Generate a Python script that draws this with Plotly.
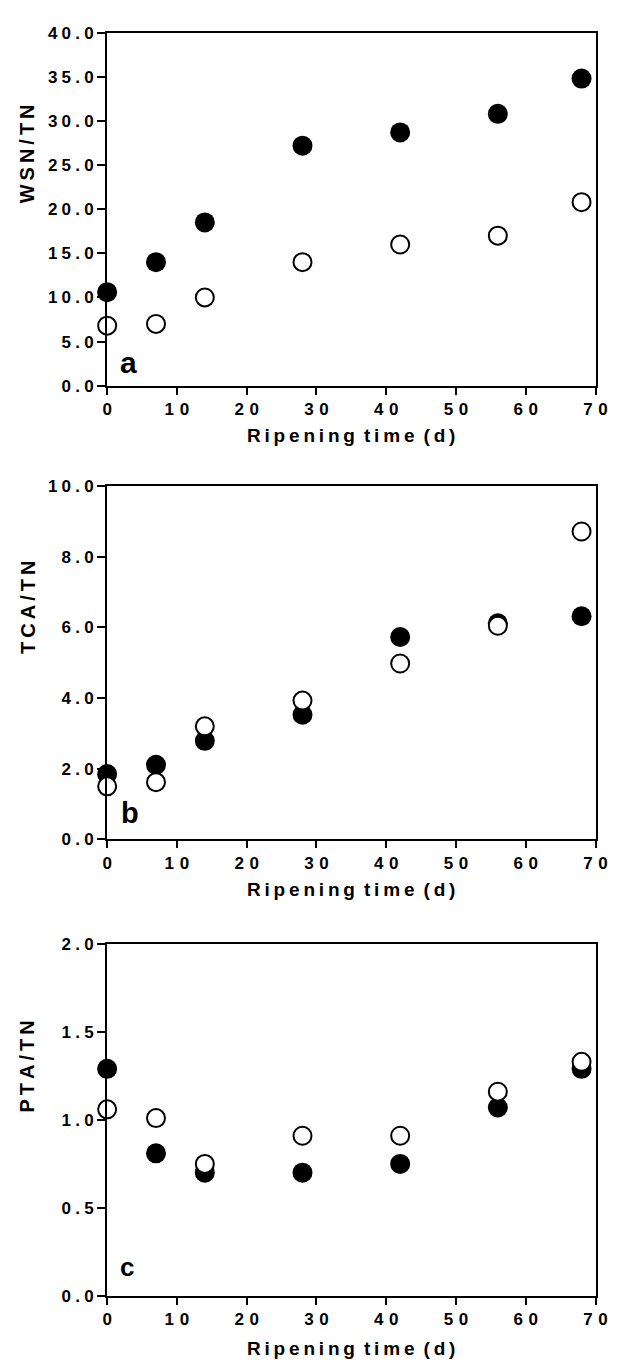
import plotly.graph_objects as go

# ---- data ----
days = [0, 7, 14, 28, 42, 56, 68]
wsn_filled = [10.6, 14.0, 18.5, 27.2, 28.7, 30.8, 34.8]
wsn_open = [6.8, 7.0, 10.0, 14.0, 16.0, 17.0, 20.8]
tca_filled = [1.85, 2.11, 2.79, 3.53, 5.73, 6.12, 6.32]
tca_open = [1.50, 1.62, 3.20, 3.93, 4.98, 6.05, 8.72]
pta_filled = [1.29, 0.81, 0.70, 0.70, 0.75, 1.07, 1.29]
pta_open = [1.06, 1.01, 0.75, 0.91, 0.91, 1.16, 1.33]

x_ticks = [0, 10, 20, 30, 40, 50, 60, 70]
wsn_ticks = [0, 5, 10, 15, 20, 25, 30, 35, 40]
tca_ticks = [0, 2, 4, 6, 8, 10]
pta_ticks = [0, 0.5, 1.0, 1.5, 2.0]

y_titles = ["WSN/TN", "TCA/TN", "PTA/TN"]
panel_letters = ["a", "b", "c"]
x_title = "Ripening time (d)"

# ---- layout helpers ----
W, H = 626, 1370
FONT = "Liberation Sans, Arial, Helvetica, sans-serif"
SP3 = "\u2004"  # three-per-em space
SP4 = "\u2005"  # four-per-em space
TH = "\u2009"   # thin space


def spaced(s, sep):
    return sep.join(list(s))


def px_x(x):
    return x / W


def px_y(y):
    return 1 - y / H


x_left, x_right = 105, 607
panels_px = [(24, 382), (484, 842), (948, 1305)]
ytitle_pos = [(23, 147), (23, 607), (23, 1072)]
xtitle_y = [433, 893, 1358]
letter_pos = [(127, 358), (129, 815), (125, 1276)]
letter_size = [30, 29, 26]

series = [
    (wsn_filled, wsn_open, wsn_ticks, "{:.1f}"),
    (tca_filled, tca_open, tca_ticks, "{:.1f}"),
    (pta_filled, pta_open, pta_ticks, "{:.1f}"),
]

fig = go.Figure()
annotations = []

for i, (filled, opn, yt, fmt) in enumerate(series):
    n = "" if i == 0 else str(i + 1)
    xa, ya = "x" + n, "y" + n
    fig.add_trace(go.Scatter(
        x=days, y=filled, mode="markers", xaxis=xa, yaxis=ya,
        marker=dict(symbol="circle", size=20, color="black",
                    line=dict(width=0)),
        cliponaxis=False, showlegend=False))
    fig.add_trace(go.Scatter(
        x=days, y=opn, mode="markers", xaxis=xa, yaxis=ya,
        marker=dict(symbol="circle", size=18, color="white",
                    line=dict(width=2, color="black")),
        cliponaxis=False, showlegend=False))

    top, bot = panels_px[i]
    common = dict(
        showgrid=False, zeroline=False, showline=True, linecolor="black",
        linewidth=2, mirror=True, ticks="outside", tickcolor="black",
        tickwidth=2,
        tickfont=dict(family=FONT, size=17, color="black", weight="bold"),
    )
    fig.layout["xaxis" + n] = dict(
        common, domain=[px_x(x_left), px_x(x_right)], range=[0, 70],
        anchor=ya, tickvals=x_ticks,
        ticktext=[spaced(str(v), SP3) for v in x_ticks], ticklen=7)
    fig.layout["yaxis" + n] = dict(
        common, domain=[px_y(bot), px_y(top)], range=[yt[0], yt[-1]],
        anchor=xa, tickvals=yt,
        ticktext=[spaced(fmt.format(v), SP4) for v in yt], ticklen=8)

    tx, ty = ytitle_pos[i]
    annotations.append(dict(
        text=spaced(y_titles[i], TH), x=px_x(tx), y=px_y(ty),
        xref="paper", yref="paper", showarrow=False, textangle=-90,
        xanchor="center", yanchor="middle",
        font=dict(family=FONT, size=20, color="black", weight="bold")))
    annotations.append(dict(
        text=(" " + TH).join(spaced(w, TH) for w in x_title.split(" ")),
        x=px_x((x_left + x_right) / 2), y=px_y(xtitle_y[i]),
        xref="paper", yref="paper", showarrow=False,
        xanchor="center", yanchor="middle",
        font=dict(family=FONT, size=19, color="black", weight="bold")))
    lx, ly = letter_pos[i]
    annotations.append(dict(
        text=panel_letters[i], x=px_x(lx), y=px_y(ly),
        xref="paper", yref="paper", showarrow=False,
        xanchor="center", yanchor="middle",
        font=dict(family=FONT, size=letter_size[i], color="black",
                  weight="bold")))

fig.update_layout(
    width=W, height=H, margin=dict(l=0, r=0, t=0, b=0),
    paper_bgcolor="white", plot_bgcolor="white",
    annotations=annotations, showlegend=False, hovermode=False,
)

fig.write_html(
    "out.html",
    config={"displayModeBar": False, "staticPlot": True},
    post_script="document.body.style.margin='0';"
                "document.body.style.overflow='hidden';",
)
